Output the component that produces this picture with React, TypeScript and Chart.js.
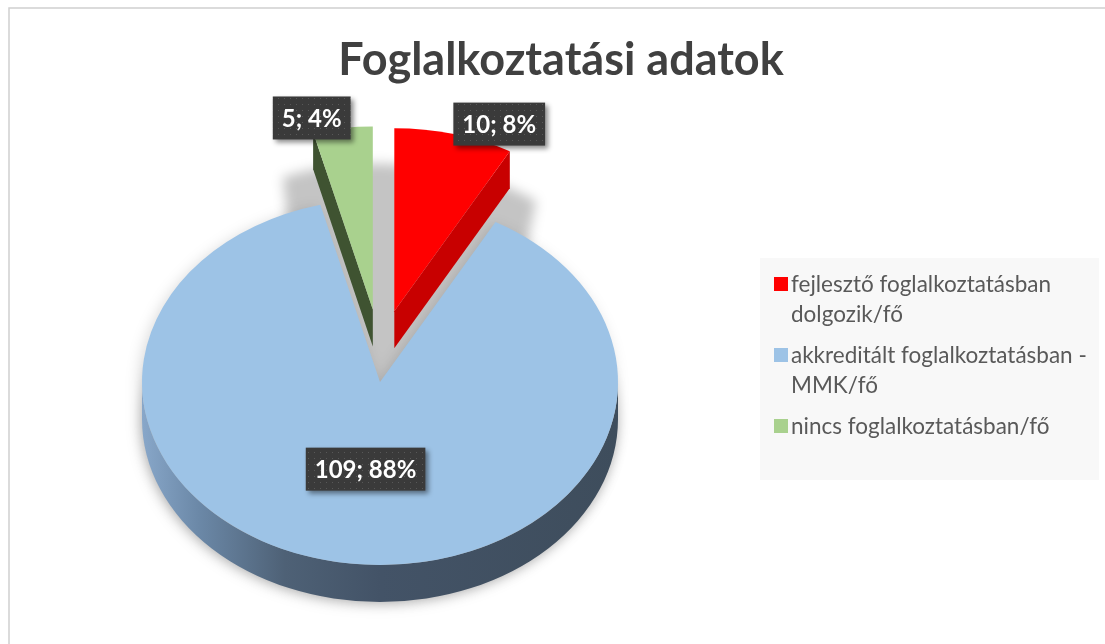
import React, { useEffect, useRef } from "react";
import { Chart, registerables } from "chart.js";

Chart.register(...registerables);

// ---------------- data ----------------
const title = "Foglalkoztatási adatok";
const categories = [
  "fejlesztő foglalkoztatásban dolgozik/fő",
  "akkreditált foglalkoztatásban - MMK/fő",
  "nincs foglalkoztatásban/fő",
];
const legendLines = [
  ["fejlesztő foglalkoztatásban", "dolgozik/fő"],
  ["akkreditált foglalkoztatásban -", "MMK/fő"],
  ["nincs foglalkoztatásban/fő"],
];
const values = [10, 109, 5];

// ---------------- styles ----------------
const topColors = ["#FF0000", "#9DC3E6", "#A9D18E"];
const cutColors = ["#C80000", "#4A5D71", "#3F5331"];
const sideStops = [
  ["#B00000", "#7A0000"],
  ["#88A7C9", "#6B88A7", "#4E6176", "#435367", "#3E4D5C"],
  ["#5A7444", "#34452A"],
];
const explode = [95, 0, 95];
const EXPLODE_X = 0.6;
const TILT = 0.769;
const DEPTH = 37;
const RADIUS = 238;
const SHADOW_SPREAD = (8 * Math.PI) / 180;

const FONT = "Lato, 'Open Sans', sans-serif";

function sectorAt(
  ctx: CanvasRenderingContext2D,
  x: number,
  y: number,
  r: number,
  s: number,
  e: number
) {
  ctx.moveTo(x, y);
  ctx.ellipse(x, y, r, r * TILT, 0, s, e, false);
  ctx.closePath();
}

function geometry(chart: any) {
  const meta = chart.getDatasetMeta(0);
  return (meta.data as any[]).map((arc, i) => {
    const p = arc.getProps(["x", "y", "startAngle", "endAngle", "outerRadius"], true);
    const mid = (p.startAngle + p.endAngle) / 2;
    const ex = explode[i] || 0;
    return {
      arc,
      i,
      cx: p.x,
      cy: p.y,
      s: p.startAngle,
      e: p.endAngle,
      mid,
      r: p.outerRadius,
      ax: p.x + Math.cos(mid) * ex * EXPLODE_X,
      ay: p.y + Math.sin(mid) * ex * TILT,
    };
  });
}

const pie3d = {
  id: "pie3d",
  beforeDraw(chart: any) {
    const ctx = chart.ctx as CanvasRenderingContext2D;
    ctx.save();
    ctx.fillStyle = "#ffffff";
    ctx.fillRect(0, 0, chart.width, chart.height);
    ctx.strokeStyle = "#D0D0D0";
    ctx.lineWidth = 1.5;
    ctx.strokeRect(9, 8, chart.width + 20, chart.height + 20);
    ctx.restore();
  },
  beforeDatasetsDraw(chart: any) {
    const ctx = chart.ctx as CanvasRenderingContext2D;
    const geo = geometry(chart);

    // outer glow of the resting body
    ctx.save();
    ctx.filter = "blur(7px)";
    ctx.fillStyle = "rgba(0,0,0,0.14)";
    ctx.beginPath();
    for (const g of geo) {
      if (explode[g.i]) continue;
      for (let k = 0; k <= 8; k++) sectorAt(ctx, g.ax - 3, g.ay + 3 + (DEPTH * k) / 8, g.r, g.s, g.e);
    }
    ctx.fill();
    ctx.restore();

    // floor shadow: bottom faces swept from rest to exploded position, blurred
    ctx.save();
    ctx.filter = "blur(6px)";
    ctx.fillStyle = "rgba(0,0,0,0.23)";
    ctx.beginPath();
    for (const g of geo) {
      const spread = explode[g.i] ? SHADOW_SPREAD : 0;
      for (let k = 0; k <= 10; k++) {
        const t = k / 10;
        const x = g.cx + (g.ax - g.cx) * t;
        const y = g.cy + (g.ay - g.cy) * t + DEPTH;
        sectorAt(ctx, x, y, g.r, g.s - spread, g.e + spread);
      }
    }
    ctx.fill();
    ctx.restore();

    // draw back (exploded) slices first, then the rest
    const order = [...geo].sort((a, b) => a.ay - b.ay);
    for (const g of order) {
      // outer wall
      for (let n = -1; n <= 1; n++) {
        const lo = Math.max(g.s, 2 * Math.PI * n);
        const hi = Math.min(g.e, 2 * Math.PI * n + Math.PI);
        if (hi > lo) {
          const grad = ctx.createLinearGradient(g.ax - g.r, 0, g.ax + g.r, 0);
          const st = sideStops[g.i];
          const pos = g.i === 1 ? [0, 0.12, 0.3, 0.5, 1] : st.map((_, j) => j / (st.length - 1));
          st.forEach((c, j) => grad.addColorStop(pos[j], c));
          ctx.beginPath();
          ctx.ellipse(g.ax, g.ay, g.r, g.r * TILT, 0, lo, hi, false);
          ctx.ellipse(g.ax, g.ay + DEPTH, g.r, g.r * TILT, 0, hi, lo, true);
          ctx.closePath();
          ctx.fillStyle = grad;
          ctx.fill();
        }
      }
      // cut faces
      const faces: number[] = [];
      if (Math.cos(g.s) < -0.01) faces.push(g.s);
      if (Math.cos(g.e) > 0.01) faces.push(g.e);
      for (const a of faces) {
        const px = g.ax + g.r * Math.cos(a);
        const py = g.ay + g.r * TILT * Math.sin(a);
        ctx.beginPath();
        ctx.moveTo(g.ax, g.ay);
        ctx.lineTo(px, py);
        ctx.lineTo(px, py + DEPTH);
        ctx.lineTo(g.ax, g.ay + DEPTH);
        ctx.closePath();
        ctx.fillStyle = cutColors[g.i];
        ctx.fill();
      }
      // top face through the library's arc element
      ctx.save();
      ctx.translate(g.ax, g.ay);
      ctx.scale(1, TILT);
      ctx.translate(-g.cx, -g.cy);
      g.arc.draw(ctx);
      ctx.restore();
    }
    return false;
  },
  afterDraw(chart: any) {
    const ctx = chart.ctx as CanvasRenderingContext2D;
    const geo = geometry(chart);
    const total = values.reduce((a, b) => a + b, 0);

    // title
    ctx.save();
    ctx.fillStyle = "#404040";
    ctx.font = `bold 45px ${FONT}`;
    ctx.textAlign = "center";
    ctx.textBaseline = "alphabetic";
    ctx.fillText(title, 561, 75);
    ctx.restore();

    // data labels
    const pc = document.createElement("canvas");
    pc.width = 6;
    pc.height = 6;
    const pctx = pc.getContext("2d")!;
    pctx.fillStyle = "#3A3A3A";
    pctx.fillRect(0, 0, 6, 6);
    pctx.fillStyle = "#585858";
    pctx.fillRect(2, 2, 1, 1);
    const pattern = ctx.createPattern(pc, "repeat")!;

    for (const g of geo) {
      const v = values[g.i];
      const frac = v / total;
      const text = `${v}; ${Math.round(frac * 100)}%`;
      ctx.save();
      ctx.font = `bold 24px ${FONT}`;
      const tw = ctx.measureText(text).width;
      const w = tw + 18;
      const h = 43;
      let cx: number, cy: number;
      if (frac < 0.15) {
        const ax = g.ax + Math.cos(g.mid) * g.r;
        const ay = g.ay + Math.sin(g.mid) * g.r * TILT;
        cx = ax + Math.sign(Math.cos(g.mid)) * (w / 2) * 0.9 + 4;
        cy = ay - 10;
      } else {
        cx = g.ax + Math.cos(g.mid) * g.r * 0.48;
        cy = g.ay + Math.sin(g.mid) * g.r * 0.48 * TILT;
      }
      ctx.shadowColor = "rgba(0,0,0,0.45)";
      ctx.shadowBlur = 5;
      ctx.shadowOffsetX = 3;
      ctx.shadowOffsetY = 3;
      ctx.fillStyle = pattern;
      ctx.fillRect(cx - w / 2, cy - h / 2, w, h);
      ctx.shadowColor = "transparent";
      ctx.fillStyle = "#ffffff";
      ctx.textAlign = "center";
      ctx.textBaseline = "middle";
      ctx.fillText(text, cx, cy + 1);
      ctx.restore();
    }

    // legend
    ctx.save();
    ctx.fillStyle = "#F8F8F8";
    ctx.fillRect(760, 258, 339, 222);
    ctx.font = `22.5px ${FONT}`;
    ctx.textBaseline = "alphabetic";
    let base = 292;
    legendLines.forEach((lines, i) => {
      ctx.fillStyle = topColors[i];
      ctx.fillRect(774, base - 15, 14, 14);
      ctx.fillStyle = "#595959";
      lines.forEach((ln, j) => ctx.fillText(ln, 791, base + j * 30));
      base += lines.length * 30 + 11;
    });
    ctx.restore();
  },
};

export default function App() {
  const ref = useRef<HTMLCanvasElement>(null);
  useEffect(() => {
    document.body.style.margin = "0";
    const chart = new Chart(ref.current!, {
      type: "pie",
      data: {
        labels: categories,
        datasets: [
          {
            data: values,
            backgroundColor: topColors,
            borderWidth: 0,
            radius: RADIUS,
            offset: 0,
            hoverOffset: 0,
          } as any,
        ],
      },
      options: {
        responsive: false,
        animation: false,
        events: [],
        layout: { padding: { left: 0, right: 345, top: 120, bottom: 0 } },
        plugins: {
          legend: { display: false },
          tooltip: { enabled: false },
          title: { display: false },
        },
      },
      plugins: [pie3d],
    });
    return () => chart.destroy();
  }, []);
  return (
    <div style={{ width: 1105, height: 644 }}>
      <canvas ref={ref} width={1105} height={644} style={{ display: "block" }} />
    </div>
  );
}
